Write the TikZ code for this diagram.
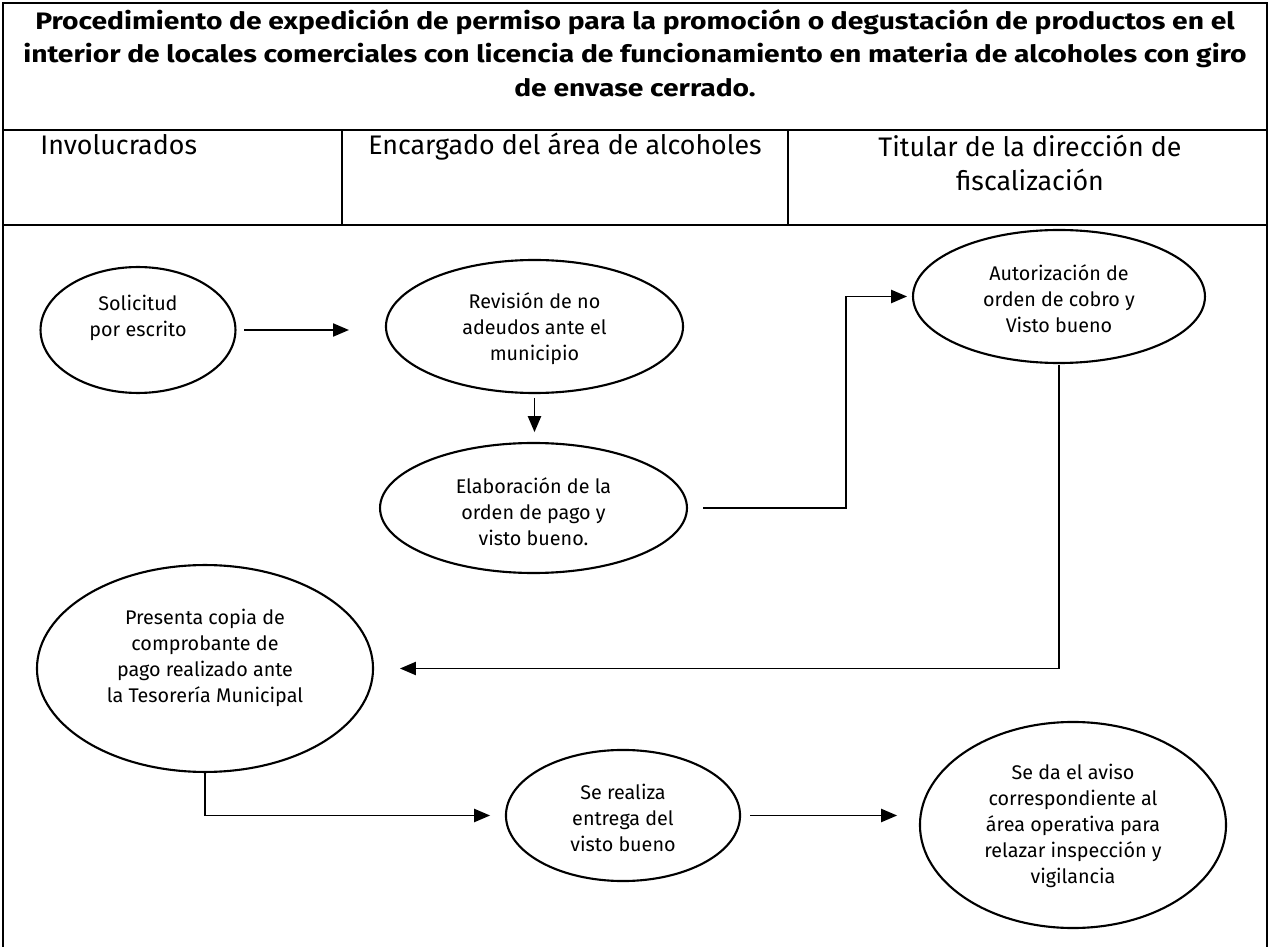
\documentclass[tikz,border=0pt]{standalone}
\usepackage{fontspec}
\setmainfont{Fira Sans}
\newfontfamily\titlefont[FakeStretch=1.185]{Fira Sans}
\usetikzlibrary{arrows.meta,shapes.geometric}
\tikzset{
  frame/.style={line width=1.1pt},
  ell/.style={draw, ellipse, line width=1.2pt, inner sep=0pt, outer sep=0pt},
  etxt/.style={align=center, font=\fontsize{11.2}{14.7}\selectfont, inner sep=0pt},
  htxt/.style={font=\fontsize{15.2}{19.3}\selectfont, inner sep=0pt},
  conn/.style={line width=0.75pt},
  arr/.style={conn, -{Triangle[length=9pt,width=7.5pt]}},
}
\begin{document}
\begin{tikzpicture}[x=0.5669pt,y=-0.5669pt]
\useasboundingbox (0,0) rectangle (1270,947);
% frame
\draw[frame] (3,950) -- (3,3) -- (1267,3) -- (1267,950);
\draw[frame] (3,130) -- (1267,130);
\draw[frame] (3,225) -- (1267,225);
\draw[frame] (342,130) -- (342,225);
\draw[frame] (788,130) -- (788,225);
% title
\node[align=center, inner sep=0pt, font=\titlefont\bfseries\fontsize{13.5}{19}\selectfont] (title) at (635,53)
 {Procedimiento de expedición de permiso para la promoción o degustación de productos en el\\
  interior de locales comerciales con licencia de funcionamiento en materia de alcoholes con giro\\
  de envase cerrado.};
% headers
\node[htxt, anchor=base west] (h1) at (40,155) {Involucrados};
\node[htxt, anchor=base] (h2) at (565,155) {Encargado del área de alcoholes};
\node[htxt, align=center] (h3) at (1030,163) {Titular de la dirección de\\fiscalización};
% ellipses
\node[ell, minimum width=110.5pt, minimum height=71.4pt] (sol) at (138,330) {};
\node[etxt] (solt) at (138,318) {Solicitud\\por escrito};
\node[ell, minimum width=168.4pt, minimum height=75.4pt] (rev) at (534.5,326.5) {};
\node[etxt] (revt) at (534.5,329) {Revisión de no\\adeudos ante el\\municipio};
\node[ell, minimum width=174pt, minimum height=73.7pt] (elab) at (533.5,508) {};
\node[etxt] (elabt) at (533.5,512) {Elaboración de la\\orden de pago y\\visto bueno.};
\node[ell, minimum width=165.5pt, minimum height=75.4pt] (aut) at (1059,296.5) {};
\node[etxt] (autt) at (1059,299) {Autorización de\\orden de cobro y\\Visto bueno};
\node[ell, minimum width=190.5pt, minimum height=117.3pt] (pre) at (205,668.5) {};
\node[etxt] (pret) at (205,658) {Presenta copia de\\comprobante de\\pago realizado ante\\la Tesorería Municipal};
\node[ell, minimum width=132.7pt, minimum height=74.3pt] (ser) at (623,815.5) {};
\node[etxt] (sert) at (623,818) {Se realiza\\entrega del\\visto bueno};
\node[ell, minimum width=173.5pt, minimum height=116.8pt] (seda) at (1073,825) {};
\node[etxt] (sedat) at (1073,826) {Se da el aviso\\correspondiente al\\área operativa para\\relazar inspección y\\vigilancia};
% connectors
\coordinate (j1) at (846,0);
\draw[arr, shorten <=5.1pt, shorten >=21pt] (sol.east) -- (sol.east -| rev.west);
\draw[arr, shorten <=2.8pt, shorten >=6.2pt] (rev.south) -- (rev.south |- elab.north);
\draw[arr, shorten <=9.1pt, shorten >=3.4pt] (elab.east) -- (elab.east -| j1) |- (aut.west);
\draw[arr, shorten <=1pt, shorten >=15.3pt] (aut.south) -- (aut.south |- pre.east) -- (pre.east);
\draw[arr, shorten >=9pt] (pre.south) |- (ser.west);
\draw[arr, shorten <=5.7pt, shorten >=13pt] (ser.east) -- (ser.east -| seda.west);
\end{tikzpicture}
\end{document}
